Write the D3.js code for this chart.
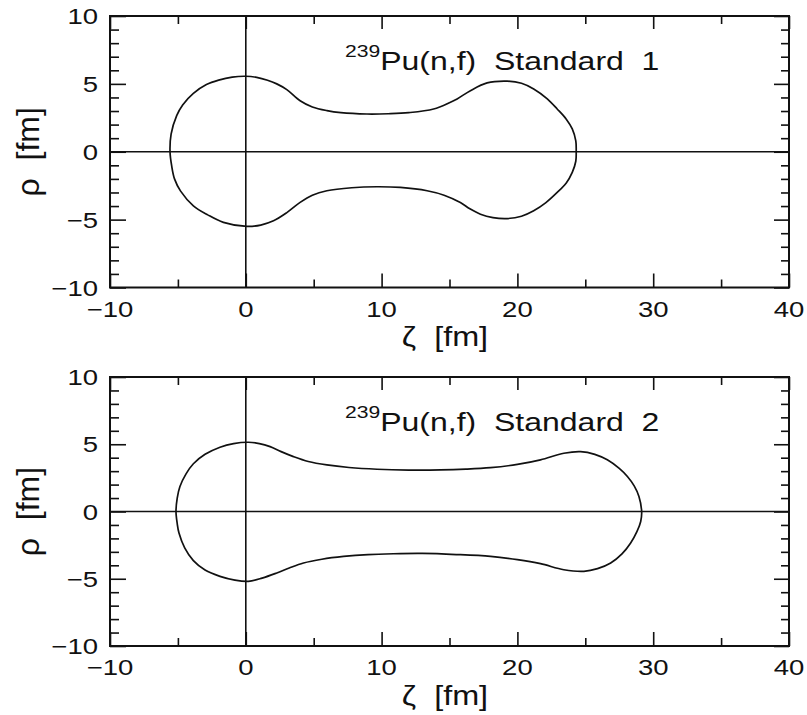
<!DOCTYPE html>
<html>
<head>
<meta charset="utf-8">
<script src="https://cdn.jsdelivr.net/npm/d3@7"></script>
<style>
html,body{margin:0;padding:0;background:#fff;}
svg{display:block;}
text{font-family:"Liberation Sans",Arial,Helvetica,sans-serif;fill:#111;}
</style>
</head>
<body>
<svg id="chart" width="807" height="715"></svg>
<script>
// ---- data (ζ, ρ) ----
const std1Upper = [[-5.58,0],[-5.5,1.3],[-5.09,2.66],[-4.65,3.45],[-3.86,4.3],[-2.9,4.95],[-2.0,5.28],[-1.0,5.5],[0,5.56],[0.8,5.48],[1.6,5.27],[2.28,5.0],[3.02,4.58],[4.0,3.76],[4.9,3.3],[5.97,3.03],[7.0,2.88],[8.92,2.78],[10.5,2.8],[12.0,2.88],[13.83,3.15],[15.07,3.65],[15.56,3.89],[16.54,4.5],[17.77,5.07],[19.25,5.2],[20.3,5.05],[21.2,4.63],[22.2,3.9],[22.93,3.15],[23.6,2.4],[24.04,1.68],[24.3,0.8],[24.33,0]];
const std1Lower = [[-5.58,0],[-5.46,-1.03],[-5.25,-2.0],[-4.8,-2.9],[-3.86,-3.98],[-2.8,-4.65],[-1.65,-5.2],[0.07,-5.5],[1.1,-5.4],[2.04,-5.09],[3.0,-4.5],[4.0,-3.73],[4.9,-3.2],[5.97,-2.87],[7.8,-2.65],[9.66,-2.58],[11.38,-2.63],[13.35,-2.87],[14.6,-3.2],[15.8,-3.74],[16.5,-4.2],[17.28,-4.6],[18.2,-4.85],[19.25,-4.92],[20.3,-4.75],[21.2,-4.35],[22.1,-3.75],[22.93,-3.0],[23.6,-2.3],[24.04,-1.52],[24.3,-0.7],[24.33,0]];
const std2Upper = [[-5.14,0],[-5.05,1.0],[-4.85,1.86],[-4.4,2.8],[-3.86,3.55],[-3.0,4.25],[-1.9,4.78],[-0.9,5.05],[0.19,5.15],[1.0,5.05],[1.79,4.82],[2.6,4.45],[3.51,4.08],[4.6,3.72],[5.97,3.46],[7.6,3.27],[9.66,3.14],[12,3.08],[14.33,3.09],[16.2,3.15],[18.02,3.26],[20,3.5],[21.7,3.84],[23.42,4.33],[24.65,4.45],[25.7,4.25],[26.62,3.84],[27.5,3.2],[28.1,2.6],[28.6,1.9],[28.95,1.11],[29.15,0]];
const std2Lower = [[-5.14,0],[-5.05,-0.9],[-4.92,-1.6],[-4.5,-2.7],[-3.86,-3.65],[-3.0,-4.35],[-1.9,-4.82],[-0.8,-5.1],[0.19,-5.19],[1.2,-4.95],[2.28,-4.57],[3.2,-4.2],[4.25,-3.83],[5.6,-3.55],[7.2,-3.34],[9,-3.2],[10.88,-3.14],[13.0,-3.12],[15.5,-3.2],[18.02,-3.34],[20,-3.58],[21.7,-3.88],[23.42,-4.33],[24.9,-4.45],[25.9,-4.25],[26.87,-3.83],[27.7,-3.15],[28.34,-2.34],[28.8,-1.5],[29.08,-0.74],[29.15,0]];

const panelTitles = ["Standard  1","Standard  2"];
const isotopeMass = "239";
const reaction = "Pu(n,f)";
const xDomain = [-10,40];
const yDomain = [-10,10];
const xMajorTicks = [-10,0,10,20,30,40];
const xMinorTicks = [-5,5,15,25,35];
const yMajorTicks = [-10,-5,0,5,10];
const yMinorTicks = [-9,-8,-7,-6,-4,-3,-2,-1,1,2,3,4,6,7,8,9];
const xLabel = "ζ  [fm]";
const yLabel = "ρ  [fm]";

// ---- drawing ----
const svg = d3.select("#chart");
const fmt = v => (v < 0 ? "\u2212" + Math.abs(v) : String(v));
const SX = 1.25;

const panels = [
  {top:16, bottom:287.5, upper:std1Upper, lower:std1Lower, title:panelTitles[0]},
  {top:377, bottom:646, upper:std2Upper, lower:std2Lower, title:panelTitles[1]}
];

panels.forEach(p => {
  const x = d3.scaleLinear().domain(xDomain).range([110,789]);
  const y = d3.scaleLinear().domain(yDomain).range([p.bottom,p.top]);
  const g = svg.append("g");
  const x0 = x.range()[0], x1 = x.range()[1];

  // axis lines through origin
  g.append("line").attr("x1",x0).attr("x2",x1).attr("y1",y(0)).attr("y2",y(0))
    .attr("stroke","#111").attr("stroke-width",1.6);
  g.append("line").attr("x1",x(0)).attr("x2",x(0)).attr("y1",p.top).attr("y2",p.bottom)
    .attr("stroke","#111").attr("stroke-width",1.6);

  // ticks (inward) using d3 axes
  const tickAxis = (axisFn, scale, vals, size, tf) => {
    const a = g.append("g").attr("transform",tf)
      .call(axisFn(scale).tickValues(vals).tickSize(size).tickFormat(""));
    a.select(".domain").remove();
    a.selectAll(".tick line").attr("stroke","#111").attr("stroke-width",1.6);
  };
  tickAxis(d3.axisBottom, x, xMajorTicks, -14, `translate(0,${p.bottom})`);
  tickAxis(d3.axisBottom, x, xMinorTicks, -8, `translate(0,${p.bottom})`);
  tickAxis(d3.axisTop, x, xMajorTicks, -13, `translate(0,${p.top})`);
  tickAxis(d3.axisTop, x, xMinorTicks, -8, `translate(0,${p.top})`);
  tickAxis(d3.axisLeft, y, yMajorTicks, -16, `translate(${x0},0)`);
  tickAxis(d3.axisLeft, y, yMinorTicks, -9, `translate(${x0},0)`);
  tickAxis(d3.axisRight, y, yMajorTicks, -15, `translate(${x1},0)`);
  tickAxis(d3.axisRight, y, yMinorTicks, -8, `translate(${x1},0)`);

  // frame
  g.append("rect").attr("x",x0).attr("y",p.top).attr("width",x1-x0).attr("height",p.bottom-p.top)
    .attr("fill","none").attr("stroke","#111").attr("stroke-width",2);

  // shape contour: upper left->right, then lower right->left, closed smooth curve
  const loop = p.upper.concat(p.lower.slice(1, -1).reverse());
  const line = d3.line().x(d => x(d[0])).y(d => y(d[1])).curve(d3.curveCatmullRomClosed.alpha(0.5));
  g.append("path").attr("d", line(loop)).attr("fill","none")
    .attr("stroke","#111").attr("stroke-width",1.7);

  // tick labels
  xMajorTicks.forEach(v => {
    g.append("text").attr("transform",`translate(${x(v)},${p.bottom+29}) scale(${SX},1)`)
      .attr("text-anchor","middle").attr("font-size",22).text(fmt(v));
  });
  yMajorTicks.forEach(v => {
    g.append("text").attr("transform",`translate(98,${y(v)+8}) scale(${SX},1)`)
      .attr("text-anchor","end").attr("font-size",22).text(fmt(v));
  });

  // axis labels
  g.append("text").attr("transform",`translate(445,${p.bottom+58.5}) scale(1.2,1)`)
    .attr("text-anchor","middle").attr("font-size",27).style("white-space","pre").text(xLabel);
  g.append("text").attr("transform",`translate(39,${(p.top+p.bottom)/2}) rotate(-90)`)
    .attr("text-anchor","middle").attr("font-size",32).style("white-space","pre").text(yLabel);

  // panel title
  const t = g.append("text").attr("transform",`translate(345,${p.top+54}) scale(1.28,1)`)
    .style("white-space","pre");
  t.append("tspan").attr("font-size",16.5).attr("dy",-13).text(isotopeMass);
  t.append("tspan").attr("font-size",25).attr("dy",13).text(reaction + "  " + p.title);
});
</script>
</body>
</html>
